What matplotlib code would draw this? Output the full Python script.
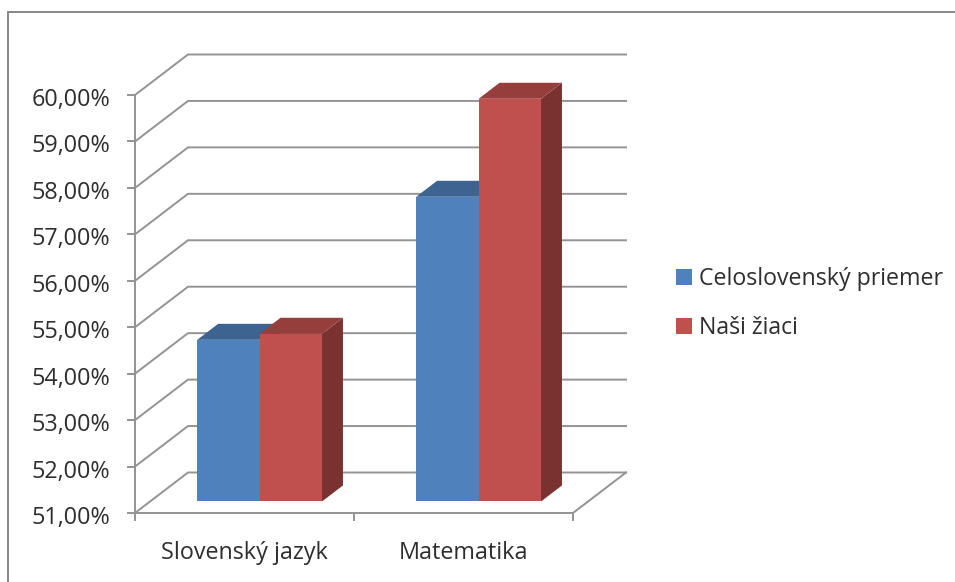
import matplotlib

matplotlib.use("Agg")
import matplotlib.pyplot as plt
from matplotlib.lines import Line2D
from matplotlib.patches import Patch, Polygon
from matplotlib.ticker import FuncFormatter
from matplotlib.transforms import ScaledTranslation

categories = ["Slovenský jazyk", "Matematika"]
series_names = ["Celoslovenský priemer", "Naši žiaci"]
national_avg = [54.48, 57.56]
our_pupils = [54.61, 59.67]
y_ticks = [51, 52, 53, 54, 55, 56, 57, 58, 59, 60]

W, H = 955, 582
LINE = "#939393"
INK = "#2e2e2e"
FACE = ["#4f81bd", "#c0504d"]
TOP = ["#3d6390", "#963e3c"]
SIDE = ["#3a5f8a", "#7a3230"]

# oblique depth of the fake 3D box, in axis units
DEPTH_X = 53 / 219
DEPTH_Y = 40.5 / 46.44
BAR_NEAR = 0.285
BAR_FAR = 0.68
BAR_W = 0.285

plt.rcParams["font.family"] = ["Open Sans", "DejaVu Sans"]

fig = plt.figure(figsize=(W / 100, H / 100), dpi=100, facecolor="white")
ax = fig.add_axes([135 / W, 1 - 513 / H, 438 / W, 418 / H])
ax.set_xlim(0, 2)
ax.set_ylim(y_ticks[0], y_ticks[-1])
ax.patch.set_visible(False)


def project(x, val, d):
    return x + d * DEPTH_X, val + d * DEPTH_Y


# walls and floor
for v in y_ticks:
    xs, ys = zip(project(0, v, 0), project(0, v, 1), project(2, v, 1))
    ax.plot(xs, ys, color=LINE, lw=1.4, clip_on=False, zorder=1, solid_joinstyle="miter")
xs, ys = zip(project(2, y_ticks[0], 0), project(2, y_ticks[0], 1))
ax.plot(xs, ys, color=LINE, lw=1.4, clip_on=False, zorder=1)


def draw_bar(x0, val, idx):
    x1 = x0 + BAR_W
    base = y_ticks[0]
    near_l = project(x0, val, BAR_NEAR)
    near_r = project(x1, val, BAR_NEAR)
    far_l = project(x0, val, BAR_FAR)
    far_r = project(x1, val, BAR_FAR)
    low_near = project(x1, base, BAR_NEAR)
    low_far = project(x1, base, BAR_FAR)
    z = 3 + idx
    ax.add_patch(Polygon([low_near, near_r, far_r, low_far], color=SIDE[idx], lw=0, clip_on=False, zorder=z))
    ax.add_patch(Polygon([near_l, near_r, far_r, far_l], color=TOP[idx], lw=0, clip_on=False, zorder=z))
    ax.bar(near_l[0], val - base, width=BAR_W, bottom=project(x0, base, BAR_NEAR)[1], align="edge",
           color=FACE[idx], lw=0, clip_on=False, zorder=z + 0.5)


for c in range(len(categories)):
    centre = c + 0.5
    draw_bar(centre - BAR_W, national_avg[c], 0)
    draw_bar(centre, our_pupils[c], 1)

for spine in ("top", "right"):
    ax.spines[spine].set_visible(False)
for spine in ("left", "bottom"):
    ax.spines[spine].set_color(LINE)
    ax.spines[spine].set_linewidth(1.4)
    ax.spines[spine].set_zorder(2)

ax.set_yticks(y_ticks)
ax.yaxis.set_major_formatter(FuncFormatter(lambda v, _: f"{v:.2f}%".replace(".", ",")))
ax.set_xticks([0, 1, 2])
ax.set_xticklabels([])
ax.tick_params(axis="both", length=6, width=1.4, color=LINE, direction="out")
ax.tick_params(axis="y", labelsize=16.8, labelcolor=INK, pad=12)
# labels sit a little below their ticks in the original
nudge = ScaledTranslation(0, -2 / 100, fig.dpi_scale_trans)
for label in ax.get_yticklabels():
    label.set_transform(label.get_transform() + nudge)
for c, name in enumerate(categories):
    ax.annotate(name, (c + 0.5, y_ticks[0]), xytext=(0, -46), textcoords="offset pixels",
                ha="center", va="baseline", fontsize=16.8, color=INK, annotation_clip=False)

handles = [Patch(facecolor=FACE[i], edgecolor="none") for i in range(2)]
fig.legend(handles, series_names, loc="center left", bbox_to_anchor=(676 / W, 1 - 303.5 / H), frameon=False,
           fontsize=16.7, labelcolor=INK, handlelength=0.69, handleheight=0.69, handletextpad=0.29,
           labelspacing=1.1, borderpad=0, borderaxespad=0)

# outer chart frame, only top and left fall inside the picture
fig.add_artist(Line2D([8 / W, 8 / W, 1], [0, 1 - 12 / H, 1 - 12 / H], color="#868686", lw=1.4, solid_joinstyle="miter"))

fig.savefig("out.png", dpi=100, facecolor="white")
